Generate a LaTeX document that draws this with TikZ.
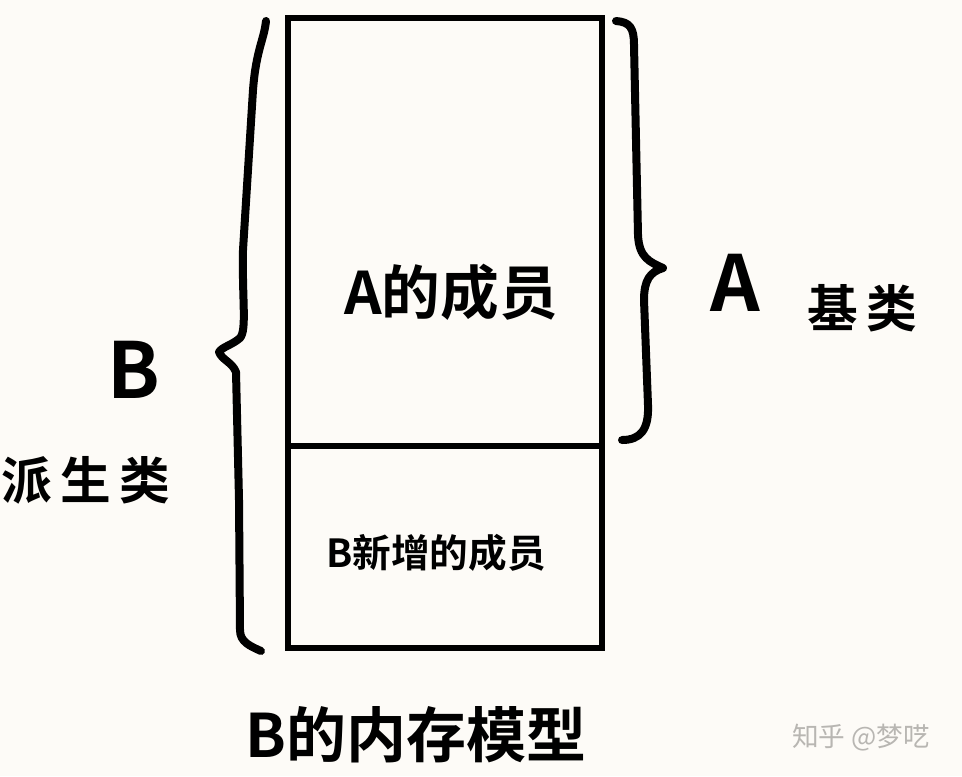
\documentclass[tikz,border=0pt]{standalone}
\usepackage{fontspec}
\newfontfamily\cjk{Noto Sans CJK SC}[BoldFont={* Bold}]
\definecolor{paper}{HTML}{FDFBF7}
\definecolor{mark}{HTML}{B8B6B2}
\begin{document}
\begin{tikzpicture}[x=0.75pt,y=-0.75pt,
  ink/.style={line width=4pt,draw=black},
  brace/.style={line width=6pt,line cap=round,line join=round,draw=black},
  lbl/.style={inner sep=0pt}]
\fill[paper] (0,0) rectangle (962,776);
\useasboundingbox (0,0) rectangle (962,776);
% memory blocks
\draw[ink] (288,18) rectangle (602,648);
\draw[ink] (288,446) -- (602,446);
\node[lbl,font=\cjk\bfseries\fontsize{44}{44}\selectfont] (amem) at (451,292) {A的成员};
\node[lbl,font=\cjk\bfseries\fontsize{29}{29}\selectfont] (bmem) at (436,553) {B新增的成员};
% right brace (A)
\coordinate (rtop) at (616,21);
\coordinate (rtip) at (663,268);
\coordinate (rbot) at (622,440);
\draw[brace] (rtop) .. controls (630,22) and (634,28) .. (634,45)
  -- (638,235) .. controls (639,258) and (650,262) .. (rtip)
  .. controls (650,272) and (644,280) .. (644,300)
  -- (648,405) .. controls (649,430) and (640,440) .. (rbot);
% left brace (B)
\coordinate (ltop) at (266,21);
\coordinate (ltip) at (219,352);
\coordinate (lbot) at (261,651);
\draw[brace] (ltop) .. controls (264,40) and (256,50) .. (253,90)
  -- (243,250) .. controls (242,300) and (247,330) .. (240,338)
  .. controls (232,345) and (222,347) .. (ltip)
  .. controls (222,360) and (232,362) .. (236,372)
  -- (239,500) -- (240,630) .. controls (240,642) and (250,646) .. (lbot);
% labels
\node[lbl,font=\cjk\bfseries\fontsize{58}{58}\selectfont] (aname) at (735,283) {A};
\node[lbl,font=\cjk\bfseries\fontsize{38}{38}\selectfont] (abase) at (862,308) {基\,类};
\node[lbl,font=\cjk\bfseries\fontsize{58}{58}\selectfont] (bname) at (134,370) {B};
\node[lbl,font=\cjk\bfseries\fontsize{38}{38}\selectfont] (bderiv) at (86,480) {派\,生\,类};
\node[lbl,font=\cjk\bfseries\fontsize{45}{45}\selectfont] (title) at (416,735) {B的内存模型};
\node[lbl,text=mark,font=\cjk\fontsize{20}{20}\selectfont] (wm) at (861,738) {知乎 @梦呓};
\end{tikzpicture}
\end{document}
